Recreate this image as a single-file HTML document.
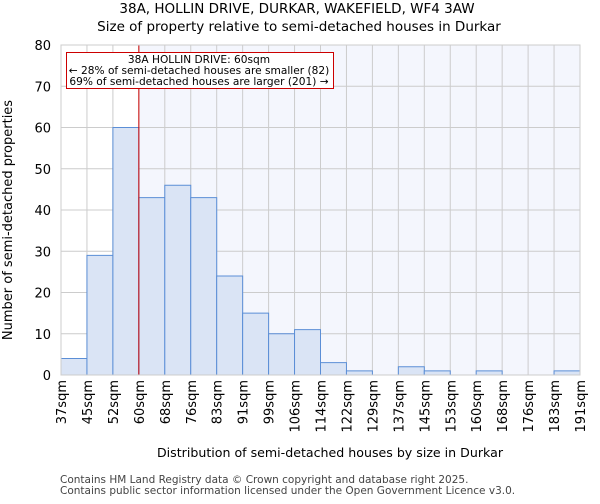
<!DOCTYPE html>
<html><head><meta charset="utf-8"><style>
body{margin:0;background:#fff;font-family:"DejaVu Sans","Liberation Sans",sans-serif;}
</style></head><body>
<svg id="chart" width="600" height="500" xmlns="http://www.w3.org/2000/svg" font-family="DejaVu Sans, Liberation Sans, sans-serif">
<text x="297" y="13" text-anchor="middle" font-size="13.5">38A, HOLLIN DRIVE, DURKAR, WAKEFIELD, WF4 3AW</text>
<text x="299" y="31" text-anchor="middle" font-size="13.5">Size of property relative to semi-detached houses in Durkar</text>
<g id="plot"></g>
<text x="330" y="457" text-anchor="middle" font-size="12.6">Distribution of semi-detached houses by size in Durkar</text>
<text transform="translate(12,220) rotate(-90)" text-anchor="middle" font-size="13">Number of semi-detached properties</text>
<text x="60" y="483" font-size="10.5" fill="#444">Contains HM Land Registry data © Crown copyright and database right 2025.</text>
<text x="60" y="494" font-size="10.5" fill="#444">Contains public sector information licensed under the Open Government Licence v3.0.</text>
</svg>
<script>
const categories=["37sqm","45sqm","52sqm","60sqm","68sqm","76sqm","83sqm","91sqm","99sqm","106sqm","114sqm","122sqm","129sqm","137sqm","145sqm","153sqm","160sqm","168sqm","176sqm","183sqm","191sqm"];
const counts=[4,29,60,43,46,43,24,15,10,11,3,1,0,2,1,0,1,0,0,1];
const yTicks=[0,10,20,30,40,50,60,70,80];
const markerBin=3;
const NS="http://www.w3.org/2000/svg";
const L=61,R=580,T=45,B=375,yMax=80;
const n=counts.length,bw=(R-L)/n;
const xs=i=>L+i*bw, ys=v=>B-(v/yMax)*(B-T);
const g=document.getElementById('plot');
function mk(t,a){const e=document.createElementNS(NS,t);for(const k in a)e.setAttribute(k,a[k]);g.appendChild(e);return e;}
let e;
e=mk('rect',{x:xs(markerBin),y:T,width:R-xs(markerBin),height:B-T,fill:'#f4f6fd'});


for(let i=0;i<=n;i++){e=mk('line',{x1:xs(i),x2:xs(i),y1:T,y2:B,stroke:'#cccccc','stroke-width':1});

}
yTicks.forEach(v=>{e=mk('line',{x1:L,x2:R,y1:ys(v),y2:ys(v),stroke:'#cccccc','stroke-width':1});


e=mk('text',{x:L-10,y:ys(v)+5,'text-anchor':'end','font-size':13});e.textContent=v;

});
counts.forEach((c,i)=>{if(c<=0)return;e=mk('rect',{x:xs(i),y:ys(c),width:bw,height:B-ys(c),fill:'#dae4f5',stroke:'#5b8ed6','stroke-width':1});

});
categories.forEach((c,i)=>{const x=xs(i)+5;e=mk('text',{x:x,y:380,'text-anchor':'end','font-size':13,transform:`rotate(-90 ${x} 380)`});e.textContent=c;

});
e=mk('line',{x1:xs(markerBin),x2:xs(markerBin),y1:T,y2:B,stroke:'#cc0000','stroke-width':1});


e=mk('rect',{x:66.5,y:52.5,width:267,height:36,fill:'#fff',stroke:'#cc0000','stroke-width':1});


["38A HOLLIN DRIVE: 60sqm","← 28% of semi-detached houses are smaller (82)","69% of semi-detached houses are larger (201) →"].forEach((t,i)=>{e=mk('text',{x:199,y:63+i*11,'text-anchor':'middle','font-size':10.6});e.textContent=t;

});
e=mk('rect',{x:L,y:T,width:R-L,height:B-T,fill:'none',stroke:'#cccccc'});


</script>
</body></html>
